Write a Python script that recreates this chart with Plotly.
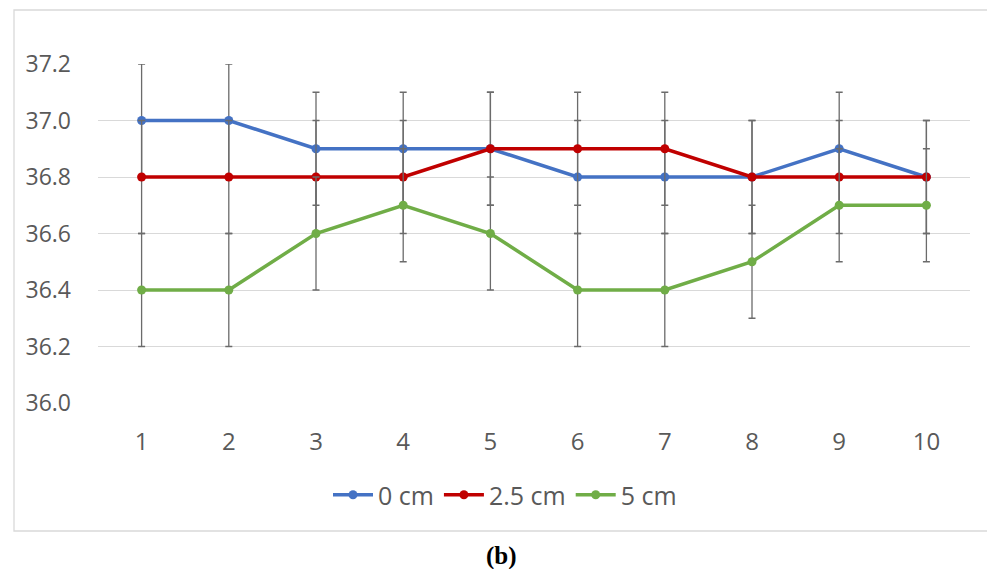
import plotly.graph_objects as go

categories = [1, 2, 3, 4, 5, 6, 7, 8, 9, 10]
series_names = ["0 cm", "2.5 cm", "5 cm"]
values_0cm = [37.0, 37.0, 36.9, 36.9, 36.9, 36.8, 36.8, 36.8, 36.9, 36.8]
values_25cm = [36.8, 36.8, 36.8, 36.8, 36.9, 36.9, 36.9, 36.8, 36.8, 36.8]
values_5cm = [36.4, 36.4, 36.6, 36.7, 36.6, 36.4, 36.4, 36.5, 36.7, 36.7]
err_0cm = [0.2] * 10
err_25cm = [0.2] * 10
err_5cm = [0.2] * 10
colors = ["#4472C4", "#C00000", "#70AD47"]
y_ticks = [36.0, 36.2, 36.4, 36.6, 36.8, 37.0, 37.2]

W, H = 987, 569
L, R, T, B = 98, 970, 64, 403

fig = go.Figure()
for name, vals, errs, col in zip(series_names, [values_0cm, values_25cm, values_5cm],
                                 [err_0cm, err_25cm, err_5cm], colors):
    fig.add_trace(go.Scatter(
        x=[str(c) for c in categories], y=vals, name=name, mode="lines+markers",
        line=dict(color=col, width=3.5),
        marker=dict(color=col, size=9),
        error_y=dict(type="data", array=errs, visible=True, color="#6b6b6b",
                     thickness=1.3, width=3.5),
    ))

def px_x(p):
    return (p - L) / (R - L)

def px_y(p):
    return (B - p) / (B - T)

fig.update_layout(
    width=W, height=H,
    margin=dict(l=L, r=W - R, t=T, b=H - B, autoexpand=False),
    paper_bgcolor="white", plot_bgcolor="white",
    font=dict(family="Open Sans, sans-serif", size=23, color="#595959"),
    xaxis=dict(type="category", range=[-0.5, len(categories) - 0.5],
               showgrid=False, zeroline=False, showline=False,
               automargin=False,
               ticks="", tickfont=dict(size=24, color="#595959"), ticklabelstandoff=22),
    yaxis=dict(range=[36.0, 37.2], tickvals=y_ticks, ticktext=[f"{v:.1f}" for v in y_ticks],
               showgrid=True, gridcolor="#d9d9d9", gridwidth=1.3, zeroline=False,
               automargin=False,
               showline=False, ticks="", tickfont=dict(size=23, color="#595959"),
               ticklabelstandoff=26),
    showlegend=True,
    legend=dict(orientation="h", x=px_x(505), xanchor="center", y=px_y(495), yanchor="middle",
                font=dict(size=25, color="#595959"), itemwidth=40,
                bgcolor="rgba(0,0,0,0)"),
    shapes=[dict(type="rect", xref="paper", yref="paper",
                 x0=px_x(14), x1=px_x(1000), y0=px_y(531), y1=px_y(10),
                 line=dict(color="#d9d9d9", width=1.3), layer="below")],
    annotations=[dict(text="<b>(b)</b>", xref="paper", yref="paper",
                      x=px_x(501), y=px_y(556), xanchor="center", yanchor="middle",
                      showarrow=False,
                      font=dict(family="Liberation Serif, serif", size=25, color="#000000"))],
)

fig.write_html("out.html")
